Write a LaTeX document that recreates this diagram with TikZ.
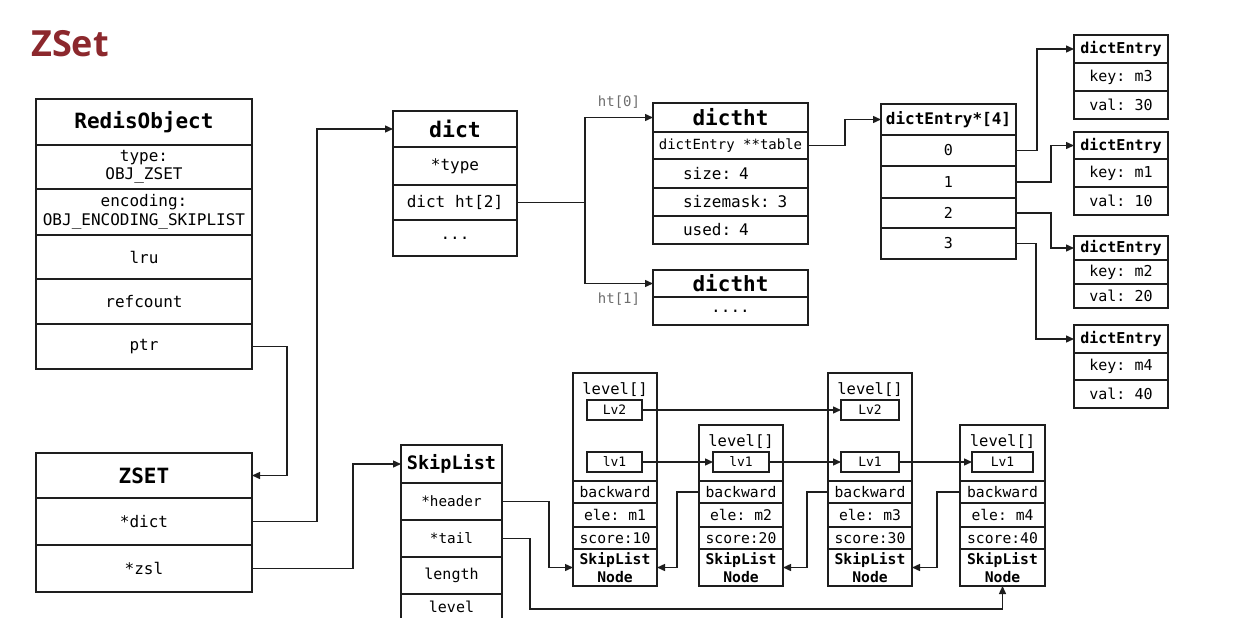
\documentclass[tikz,border=0pt]{standalone}
\usepackage{fontspec}
\setmonofont{DejaVu Sans Mono}
\newfontfamily\titlefont{Open Sans}
\usetikzlibrary{arrows.meta}
\definecolor{linec}{RGB}{30,30,30}
\definecolor{zred}{RGB}{140,40,45}
\definecolor{lblgray}{RGB}{110,110,110}
\newcommand\cell[6][]{\node[cell,minimum width=#4pt,minimum height=#5pt,#1] (#2) at (#3) {#6};}
\begin{document}
\begin{tikzpicture}[x=1pt,y=-1pt,
  fs/.style={font=\ttfamily\fontsize{#1}{18.5}\selectfont},
  hd/.style={font=\ttfamily\bfseries\fontsize{#1}{18}\selectfont},
  cell/.style={draw=linec,line width=1.5pt,inner sep=0pt,outer sep=0pt,anchor=north west,align=center,fs=16},
  lvbox/.style={line width=1.3pt,fs=13},
  arr/.style={draw=linec,line width=1.4pt,-{Triangle[length=8pt,width=7pt]}},
  ln/.style={draw=linec,line width=1.4pt},
  lbl/.style={text=lblgray,inner sep=0pt,fs=14},
  lvl/.style={label={[fs=15.5,inner sep=0pt,anchor=north,yshift=-9pt]north:{level[]}}},
]
\fill[white] (0,0) rectangle (1234,618);
\useasboundingbox (0,0) rectangle (1234,618);
\clip (0,0) rectangle (1234,618);

% title
\node[font=\titlefont\bfseries\fontsize{36}{40}\selectfont,text=zred,inner sep=0pt,anchor=base west] (title) at (31,57) {ZSet};

% RedisObject
\cell[hd=21]{ro_h}{36,99}{216}{46}{RedisObject}
\cell{ro_type}{36,145}{216}{44}{type:\\OBJ\_ZSET}
\cell{ro_enc}{36,189}{216}{46}{encoding:\\OBJ\_ENCODING\_SKIPLIST}
\cell{ro_lru}{36,235}{216}{44}{lru}
\cell{ro_ref}{36,279}{216}{45}{refcount}
\cell{ro_ptr}{36,324}{216}{45}{ptr}

% ZSET
\cell[hd=21]{z_h}{36,453}{216}{45}{ZSET}
\cell{z_dict}{36,498}{216}{47}{*dict}
\cell{z_zsl}{36,545}{216}{47}{*zsl}

% dict
\cell[hd=21.5]{d_h}{393,111}{124}{36}{dict}
\cell{d_type}{393,147}{124}{38}{*type}
\cell{d_ht}{393,185}{124}{35}{dict ht[2]}
\cell{d_dots}{393,220}{124}{36}{...}

% dictht 0
\cell[hd=21]{t0_h}{653,103}{155}{29}{dictht}
\cell[fs=14]{t0_tab}{653,132}{155}{27}{dictEntry **table}
\cell[align=left,text width=155pt]{t0_size}{653,159}{155}{29}{\hspace*{30pt}size: 4}
\cell[align=left,text width=155pt]{t0_mask}{653,188}{155}{28}{\hspace*{30pt}sizemask: 3}
\cell[align=left,text width=155pt]{t0_used}{653,216}{155}{28}{\hspace*{30pt}used: 4}

% dictht 1
\cell[hd=21]{t1_h}{653,270}{155}{27}{dictht}
\cell{t1_dots}{653,297}{155}{28}{....}

% dictEntry*[4]
\cell[hd=16]{a_h}{881,104}{135}{31}{dictEntry*[4]}
\cell[fs=15]{a0}{881,135}{135}{31}{0}
\cell[fs=15]{a1}{881,166}{135}{32}{1}
\cell[fs=15]{a2}{881,198}{135}{30}{2}
\cell[fs=15]{a3}{881,228}{135}{31}{3}

% dictEntry boxes
\cell[hd=15]{e1h}{1074,35}{94}{28}{dictEntry}
\cell[fs=15]{e1k}{1074,63}{94}{28}{key: m3}
\cell[fs=15]{e1v}{1074,91}{94}{28}{val: 30}
\cell[hd=15]{e2h}{1074,132}{94}{27}{dictEntry}
\cell[fs=15]{e2k}{1074,159}{94}{28}{key: m1}
\cell[fs=15]{e2v}{1074,187}{94}{28}{val: 10}
\cell[hd=15]{e3h}{1074,236}{94}{24}{dictEntry}
\cell[fs=15]{e3k}{1074,260}{94}{24}{key: m2}
\cell[fs=15]{e3v}{1074,284}{94}{24}{val: 20}
\cell[hd=15]{e4h}{1074,325}{94}{28}{dictEntry}
\cell[fs=15]{e4k}{1074,353}{94}{27}{key: m4}
\cell[fs=15]{e4v}{1074,380}{94}{28}{val: 40}

% SkipList
\cell[hd=18.5]{s_h}{401,445}{101}{38}{SkipList}
\cell[fs=14.3]{s_head}{401,483}{101}{37}{*header}
\cell[fs=14.3]{s_tail}{401,520}{101}{37}{*tail}
\cell[fs=15]{s_len}{401,557}{101}{37}{length}
\cell[fs=15]{s_lvl}{401,594}{101}{26}{level}

% SkipList nodes
\cell[lvl]{n1lv}{573,373}{84}{108}{}
\cell[fs=14.7]{n1bw}{573,481}{84}{22}{backward}
\cell[fs=14.7]{n1el}{573,503}{84}{24}{ele: m1}
\cell[fs=14.7]{n1sc}{573,527}{84}{22}{score:10}
\cell[hd=14.7]{n1sn}{573,549}{84}{37}{SkipList\\Node}
\cell[lvbox]{n1l2}{587,400}{55}{20}{Lv2}
\cell[lvbox]{n1l1}{587,452}{55}{20}{lv1}

\cell[lvl]{n2lv}{699,425}{84}{56}{}
\cell[fs=14.7]{n2bw}{699,481}{84}{22}{backward}
\cell[fs=14.7]{n2el}{699,503}{84}{24}{ele: m2}
\cell[fs=14.7]{n2sc}{699,527}{84}{22}{score:20}
\cell[hd=14.7]{n2sn}{699,549}{84}{37}{SkipList\\Node}
\cell[lvbox]{n2l1}{713,452}{56}{20}{lv1}

\cell[lvl]{n3lv}{828,373}{84}{108}{}
\cell[fs=14.7]{n3bw}{828,481}{84}{22}{backward}
\cell[fs=14.7]{n3el}{828,503}{84}{24}{ele: m3}
\cell[fs=14.7]{n3sc}{828,527}{84}{22}{score:30}
\cell[hd=14.7]{n3sn}{828,549}{84}{37}{SkipList\\Node}
\cell[lvbox]{n3l2}{841,400}{58}{20}{Lv2}
\cell[lvbox]{n3l1}{841,452}{58}{20}{Lv1}

\cell[lvl]{n4lv}{960,425}{85}{56}{}
\cell[fs=14.7]{n4bw}{960,481}{85}{22}{backward}
\cell[fs=14.7]{n4el}{960,503}{85}{24}{ele: m4}
\cell[fs=14.7]{n4sc}{960,527}{85}{22}{score:40}
\cell[hd=14.7]{n4sn}{960,549}{85}{37}{SkipList\\Node}
\cell[lvbox]{n4l1}{972,452}{61}{20}{Lv1}

% connectors
\draw[arr] (ro_ptr.east) -- ([xshift=35pt]ro_ptr.east) |- (z_h.east);
\draw[arr] (z_dict.east) -- ([xshift=65pt]z_dict.east) |- (d_h.west);
\draw[arr] (z_zsl.east) -- ([xshift=101pt]z_zsl.east) |- (s_h.west);

\draw[ln] (d_ht.east) -- ([xshift=68pt]d_ht.east) coordinate (jn);
\draw[arr] (jn) |- node[lbl,pos=0.75,above=8pt]{ht[0]} (t0_h.west);
\draw[arr] (jn) |- node[lbl,pos=0.75,below=9pt]{ht[1]} (t1_h.west);

\draw[arr] (t0_tab.east) -- ([xshift=37pt]t0_tab.east) |- (a_h.west);
\draw[arr] (a0.east) -- ([xshift=21pt]a0.east) |- (e1h.west);
\draw[arr] (a1.east) -- ([xshift=35pt]a1.east) |- (e2h.west);
\draw[arr] (a2.east) -- ([xshift=35pt]a2.east) |- (e3h.west);
\draw[arr] (a3.east) -- ([xshift=20pt]a3.east) |- (e4h.west);

\draw[arr] (s_head.east) -- ([xshift=47pt]s_head.east) |- (n1sn.west);
\draw[arr] (s_tail.east) -- ([xshift=28pt]s_tail.east) |- ([yshift=-23pt]n4sn.south) -- (n4sn.south);

\draw[arr] (n1l2.east) -- (n3l2.west);
\draw[arr] (n1l1.east) -- (n2l1.west);
\draw[arr] (n2l1.east) -- (n3l1.west);
\draw[arr] (n3l1.east) -- (n4l1.west);
\draw[arr] (n2bw.west) -- ([xshift=-22pt]n2bw.west) |- (n1sn.east);
\draw[arr] (n3bw.west) -- ([xshift=-21pt]n3bw.west) |- (n2sn.east);
\draw[arr] (n4bw.west) -- ([xshift=-23pt]n4bw.west) |- (n3sn.east);
\end{tikzpicture}
\end{document}
